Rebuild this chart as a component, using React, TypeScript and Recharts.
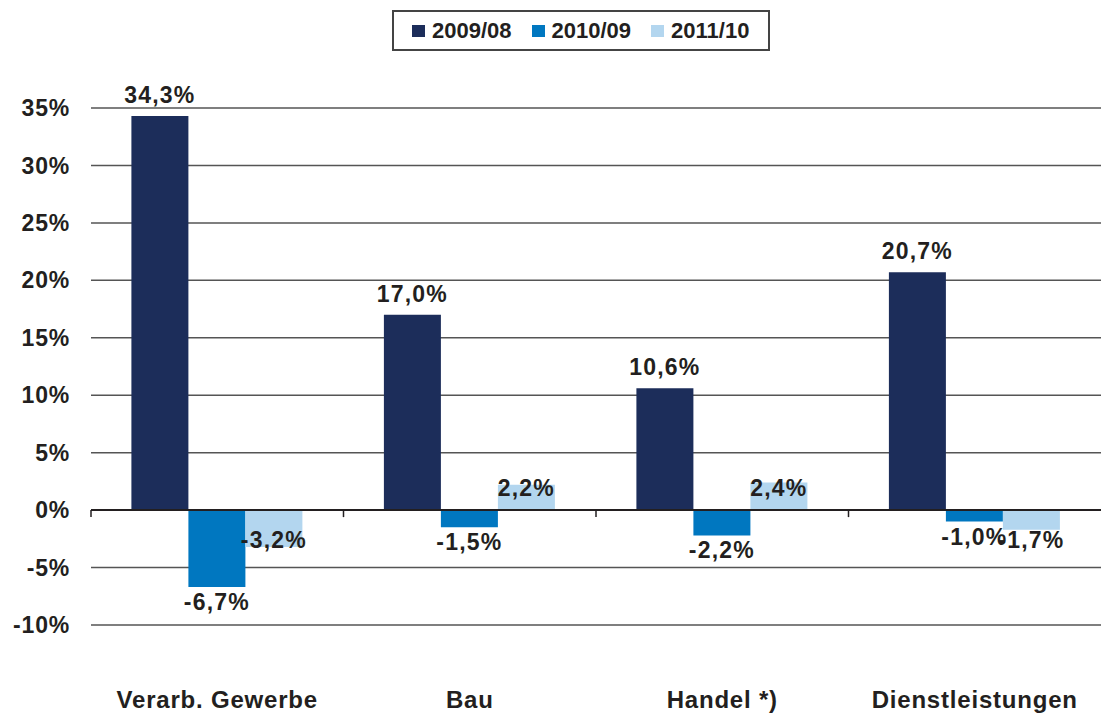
import React from 'react';
import { BarChart, Bar, XAxis, YAxis, CartesianGrid, Legend, LabelList, ReferenceLine } from 'recharts';

const categories = ['Verarb. Gewerbe', 'Bau', 'Handel *)', 'Dienstleistungen'];
const values2009 = [34.3, 17.0, 10.6, 20.7];
const values2010 = [-6.7, -1.5, -2.2, -1.0];
const values2011 = [-3.2, 2.2, 2.4, -1.7];
const yTicks = [-10, -5, 0, 5, 10, 15, 20, 25, 30, 35];

const seriesList = [
  { key: 'y2009', name: '2009/08', color: '#1c2d5a' },
  { key: 'y2010', name: '2010/09', color: '#0077c0' },
  { key: 'y2011', name: '2011/10', color: '#b3d6ef' },
];

const data = categories.map((name, i) => ({
  name,
  y2009: values2009[i],
  y2010: values2010[i],
  y2011: values2011[i],
}));

const FONT = '"Liberation Sans", Arial, Helvetica, sans-serif';
const TEXT = '#231f20';

const fmtPct = (v: number) => `${v.toFixed(1).replace('.', ',')}%`;

const makeLabel = (idx: number) => (props: any) => {
  const { x, y, width, height, value } = props;
  const top = Math.min(y, y + height);
  const bottom = Math.max(y, y + height);
  const cx = x + width / 2;
  let cy: number;
  if (idx === 2) {
    // light series labels sit near the zero line
    cy = value >= 0 ? bottom - 22 : top + 30;
  } else {
    cy = value >= 0 ? top - 21 : bottom + 15;
  }
  return (
    <text
      x={cx}
      y={cy}
      textAnchor="middle"
      dominantBaseline="central"
      fontFamily={FONT}
      fontWeight="bold"
      fontSize={23}
      letterSpacing={1.2}
      fill={TEXT}
    >
      {fmtPct(value)}
    </text>
  );
};

const LegendBox = () => (
  <div
    style={{
      boxSizing: 'border-box',
      border: '2px solid #444',
      height: 41,
      display: 'flex',
      alignItems: 'center',
      paddingLeft: 18,
      fontFamily: FONT,
      fontWeight: 'bold',
      fontSize: 22,
      color: TEXT,
    }}
  >
    {seriesList.map((s) => (
      <div key={s.key} style={{ display: 'flex', alignItems: 'center', marginRight: 20 }}>
        <span style={{ width: 13, height: 12, background: s.color, marginRight: 7, display: 'inline-block' }} />
        <span>{s.name}</span>
      </div>
    ))}
  </div>
);

const ZeroLine = (props: any) => {
  const { x1, x2, y1 } = props;
  const step = (x2 - x1) / categories.length;
  const marks = categories.map((_, i) => x1 + i * step);
  return (
    <g>
      <line x1={x1} x2={x2} y1={y1} y2={y1} stroke="#231f20" strokeWidth={2} />
      {marks.map((mx, i) => (
        <line key={i} x1={mx} x2={mx} y1={y1} y2={y1 + 7} stroke="#231f20" strokeWidth={1.5} />
      ))}
    </g>
  );
};

const CategoryTick = (props: any) => {
  const { x, y, payload } = props;
  return (
    <text
      x={x}
      y={y}
      dy="0.71em"
      textAnchor="middle"
      fontFamily={FONT}
      fontWeight="bold"
      fontSize={24}
      letterSpacing={0.8}
      fill={TEXT}
    >
      {payload.value}
    </text>
  );
};

export default function App() {
  return (
    <div style={{ position: 'absolute', left: 0, top: 0, width: 1102, height: 715, background: '#fff' }}>
      <BarChart
        width={1102}
        height={715}
        data={data}
        margin={{ top: 108, right: 1, bottom: 0, left: 0 }}
        barCategoryGap="16%"
        barGap={0}
      >
        <CartesianGrid vertical={false} stroke="#555" strokeWidth={1.5} />
        <XAxis
          dataKey="name"
          axisLine={false}
          tickLine={false}
          height={90}
          tickMargin={60}
          tick={<CategoryTick />}
          interval={0}
        />
        <YAxis
          domain={[-10, 35]}
          ticks={yTicks}
          width={91}
          axisLine={false}
          tickLine={false}
          tickMargin={15}
          tickFormatter={(v: number) => `${v}%`}
          tick={{ fontFamily: FONT, fontWeight: 'bold', fontSize: 23, letterSpacing: 0.8, fill: TEXT }}
        />
        <Legend
          verticalAlign="middle"
          align="center"
          layout="horizontal"
          wrapperStyle={{ top: 10, left: 392, width: 378 }}
          content={() => <LegendBox />}
        />
        {seriesList.map((s, i) => (
          <Bar key={s.key} dataKey={s.key} name={s.name} fill={s.color} isAnimationActive={false}>
            <LabelList dataKey={s.key} content={makeLabel(i)} />
          </Bar>
        ))}
        <ReferenceLine y={0} shape={<ZeroLine />} />
      </BarChart>
    </div>
  );
}
